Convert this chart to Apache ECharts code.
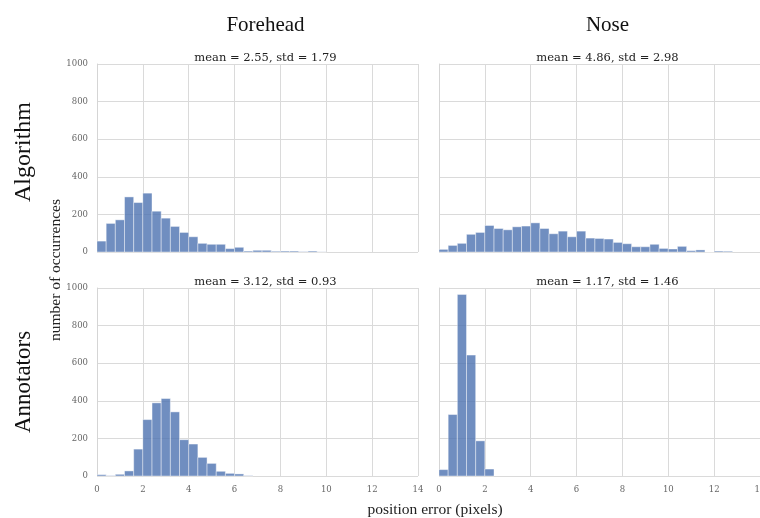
<!DOCTYPE html>
<html><head><meta charset="utf-8">
<script src="https://cdn.jsdelivr.net/npm/echarts@6/dist/echarts.min.js"></script>
<style>html,body{margin:0;padding:0;background:#fff}#c{width:760px;height:518px}</style>
</head><body><div id="c"></div>
<script>
// histogram bin width (pixels of position error); bins start at 0
const binWidth = 0.4;
const columnTitles = ['Forehead', 'Nose'];
const rowTitles = ['Algorithm', 'Annotators'];
const panelStats = ['mean = 2.55, std = 1.79', 'mean = 4.86, std = 2.98', 'mean = 3.12, std = 0.93', 'mean = 1.17, std = 1.46'];
const xTicks = [0, 2, 4, 6, 8, 10, 12, 14];
const yTicks = [0, 200, 400, 600, 800, 1000];

const foreheadAlgorithm = [58, 152, 171, 293, 263, 313, 217, 180, 136, 104, 81, 46, 41, 41, 18, 25, 5, 9, 9, 4, 5, 5, 2, 5, 1];
const noseAlgorithm = [14, 35, 46, 94, 104, 141, 125, 118, 134, 138, 155, 125, 97, 111, 81, 111, 74, 72, 69, 51, 44, 28, 28, 41, 19, 16, 30, 7, 11, 0, 5, 4];
const foreheadAnnotators = [7, 2, 9, 27, 143, 300, 389, 412, 341, 193, 170, 99, 67, 25, 14, 11, 2];
const noseAnnotators = [34, 327, 966, 643, 187, 37];

const panels = [foreheadAlgorithm, noseAlgorithm, foreheadAnnotators, noseAnnotators];
const serif = '"Liberation Serif", "DejaVu Serif", serif';
const wideSerif = '"DejaVu Serif", "Liberation Serif", serif';

const gridPos = [
  {left: 97, top: 64, width: 321, height: 188},
  {left: 439, top: 64, width: 321, height: 188},
  {left: 97, top: 288, width: 321, height: 188},
  {left: 439, top: 288, width: 321, height: 188}
];

function toBins(counts) {
  return counts.map((c, i) => [i * binWidth, (i + 1) * binWidth, c]);
}

const grids = gridPos.map(g => Object.assign({}, g, {containLabel: false, outerBoundsMode: 'none'}));
const xAxes = gridPos.map((g, i) => ({
  type: 'value', gridIndex: i, min: xTicks[0], max: xTicks[xTicks.length - 1], interval: 2,
  axisLine: {show: false}, axisTick: {show: false},
  axisLabel: {show: i >= 2, fontFamily: wideSerif, fontSize: 8.5, color: '#666', margin: 9, formatter: v => String(v)},
  splitLine: {show: true, lineStyle: {color: '#dadada', width: 1}}
}));
const yAxes = gridPos.map((g, i) => ({
  type: 'value', gridIndex: i, min: yTicks[0], max: yTicks[yTicks.length - 1], interval: 200,
  axisLine: {show: true, lineStyle: {color: '#d5d5d5'}}, axisTick: {show: false},
  axisLabel: {show: i % 2 === 0, fontFamily: wideSerif, fontSize: 8.5, color: '#666', margin: 9, formatter: v => String(v)},
  splitLine: {show: true, lineStyle: {color: '#dadada', width: 1}}
}));

const series = panels.map((counts, i) => ({
  type: 'custom', xAxisIndex: i, yAxisIndex: i,
  data: toBins(counts),
  encode: {x: [0, 1], y: 2},
  renderItem: function (params, api) {
    const a = api.coord([api.value(0), api.value(2)]);
    const b = api.coord([api.value(1), 0]);
    return {type: 'rect', shape: {x: a[0], y: a[1], width: b[0] - a[0], height: b[1] - a[1]},
      style: {fill: 'rgba(76,114,176,0.8)', stroke: 'rgba(255,255,255,0.7)', lineWidth: 0.6}};
  }
}));

const titles = [];
columnTitles.forEach((t, i) => {
  const g = gridPos[i];
  titles.push({text: t, left: g.left + g.width / 2 + 3, top: 10, textAlign: 'center',
    textStyle: {fontFamily: serif, fontSize: 21, fontWeight: 'normal', color: '#111'}});
});
panelStats.forEach((t, i) => {
  const g = gridPos[i];
  titles.push({text: t, left: g.left + g.width / 2 + 3, top: g.top - 17, textAlign: 'center',
    textStyle: {fontFamily: wideSerif, fontSize: 11.5, fontWeight: 'normal', color: '#222'}});
});

const chart = echarts.init(document.getElementById('c'), null, {renderer: 'canvas'});
chart.setOption({
  backgroundColor: '#fff',
  animation: false,
  title: titles,
  grid: grids,
  xAxis: xAxes,
  yAxis: yAxes,
  series: series,
  graphic: [
    {type: 'text', x: 24, y: 152, rotation: Math.PI / 2, style: {text: rowTitles[0], font: '24px ' + serif, fill: '#111', textAlign: 'center', textVerticalAlign: 'middle'}},
    {type: 'text', x: 24, y: 382, rotation: Math.PI / 2, style: {text: rowTitles[1], font: '23px ' + serif, fill: '#111', textAlign: 'center', textVerticalAlign: 'middle'}},
    {type: 'text', x: 56, y: 270, rotation: Math.PI / 2, style: {text: 'number of occurrences', font: '15.5px ' + serif, fill: '#222', textAlign: 'center', textVerticalAlign: 'middle'}},
    {type: 'text', x: 435, y: 510, style: {text: 'position error (pixels)', font: '15.5px ' + serif, fill: '#222', textAlign: 'center', textVerticalAlign: 'middle'}}
  ]
});
</script></body></html>
